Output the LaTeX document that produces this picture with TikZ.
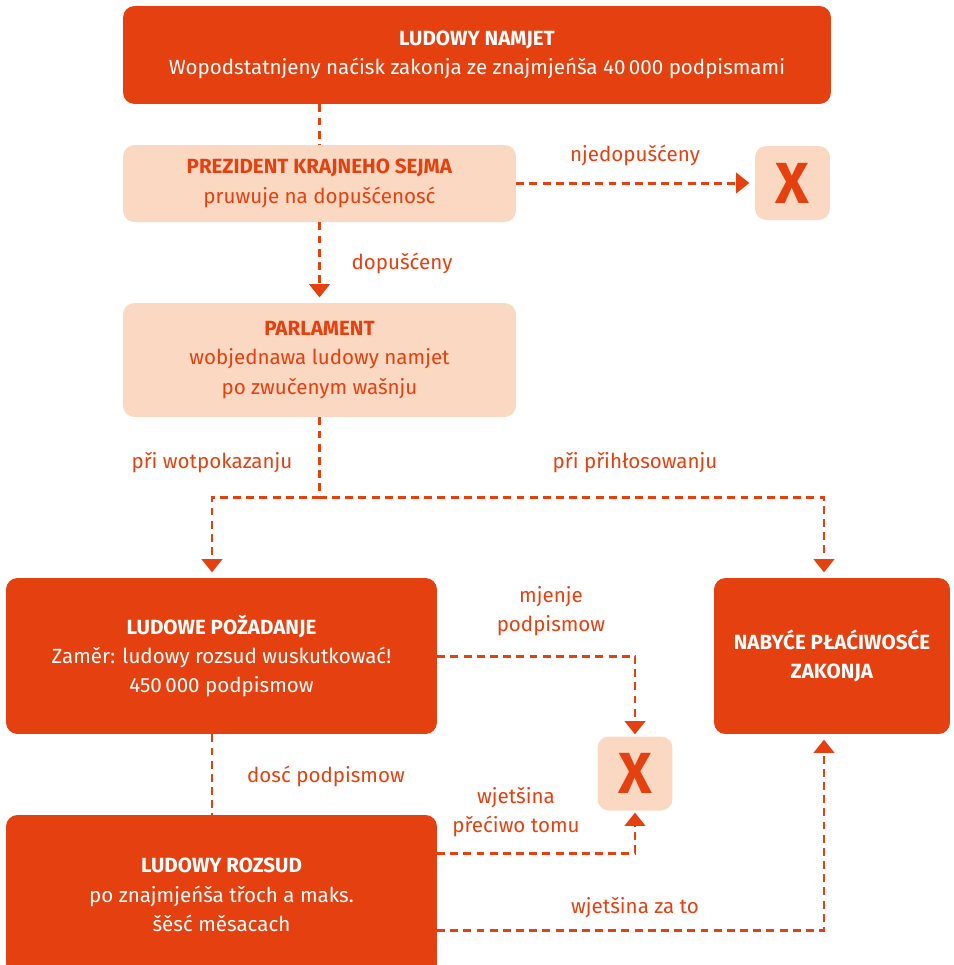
\documentclass[tikz,border=0pt]{standalone}
\usepackage{fontspec}
\setmainfont{Fira Sans}
\usetikzlibrary{arrows.meta}
\definecolor{rot}{HTML}{E5400F}
\definecolor{hell}{HTML}{FAD8C2}

\begin{document}
\begin{tikzpicture}[x=0.02cm,y=-0.02cm,
  kasten/.style={rounded corners=6.5pt,align=center,inner sep=0pt,font=\fontsize{11.7}{16.7}\selectfont},
  dunkel/.style={kasten,fill=rot,text=white},
  blass/.style={kasten,fill=hell,text=rot},
  kreuz/.style={kasten,fill=hell,text=rot,minimum width=1.5cm,minimum height=1.48cm,font=\bfseries\fontsize{33}{33}\selectfont},
  linie/.style={draw=rot,line width=1.7pt,dash pattern=on 4.5pt off 3pt},
  pfeil/.style={linie,-{Triangle[width=11.5pt,length=7.5pt]},shorten >=3pt},
  beschr/.style={text=rot,align=center,font=\fontsize{11.7}{16.7}\selectfont}]
\clip (0,0) rectangle (954,965);

\node[dunkel,minimum width=14.16cm,minimum height=1.96cm] (namjet) at (477,55)
  {\textbf{LUDOWY NAMJET}\\Wopodstatnjeny naćisk zakonja ze znajmjeńša 40\,000 podpismami};
\node[blass,minimum width=7.86cm,minimum height=1.54cm] (prezident) at (319.5,183.5)
  {\textbf{PREZIDENT KRAJNEHO SEJMA}\\pruwuje na dopušćenosć};
\node[kreuz] (x1) at (792.5,183) {X};
\node[blass,minimum width=7.86cm,minimum height=2.28cm] (parlament) at (319.5,360)
  {\textbf{PARLAMENT}\\wobjednawa ludowy namjet\\po zwučenym wašnju};
\node[dunkel,minimum width=8.62cm,minimum height=3.12cm] (pozadanje) at (221.5,656)
  {\textbf{LUDOWE POŽADANJE}\\Zaměr: ludowy rozsud wuskutkować!\\450\,000 podpismow};
\node[dunkel,minimum width=4.72cm,minimum height=3.12cm] (nabyce) at (832,656)
  {\textbf{NABYĆE PŁAĆIWOSĆE}\\\textbf{ZAKONJA}};
\node[kreuz] (x2) at (635,773.5) {X};
\node[dunkel,minimum width=8.62cm,minimum height=3.2cm] (rozsud) at (221.5,895)
  {\textbf{LUDOWY ROZSUD}\\po znajmjeńša třoch a maks.\\šěsć měsacach};

\coordinate (li) at (212,497);
\coordinate (re) at (824,497);
\coordinate (r1) at (437,853);
\coordinate (r2) at (437,930);

\draw[linie] (prezident.north |- namjet.south) -- (prezident.north);
\draw[pfeil] (prezident.south) -- (parlament.north);
\draw[pfeil] (prezident.east |- x1.west) -- (x1.west);
\draw[pfeil] (parlament.south) |- (li) -- (li |- pozadanje.north);
\draw[pfeil] (parlament.south) |- (re) -- (re |- nabyce.north);
\draw[pfeil,shorten >=1pt] (pozadanje.east) -| (x2.north);
\draw[linie] (li |- pozadanje.south) -- (li |- rozsud.north);
\draw[pfeil,shorten >=1pt] (r1) -| (x2.south);
\draw[pfeil] (r2) -| (re |- nabyce.south);

\node[beschr] (l1) at (635,155) {njedopušćeny};
\node[beschr] (l2) at (402,263) {dopušćeny};
\node[beschr] (l3) at (212,463) {při wotpokazanju};
\node[beschr] (l4) at (635,463) {při přihłosowanju};
\node[beschr] (l5) at (551,611) {mjenje\\podpismow};
\node[beschr] (l6) at (326,776) {dosć podpismow};
\node[beschr] (l7) at (516,812) {wjetšina\\přećiwo tomu};
\node[beschr] (l8) at (635,908) {wjetšina za to};
\end{tikzpicture}
\end{document}
